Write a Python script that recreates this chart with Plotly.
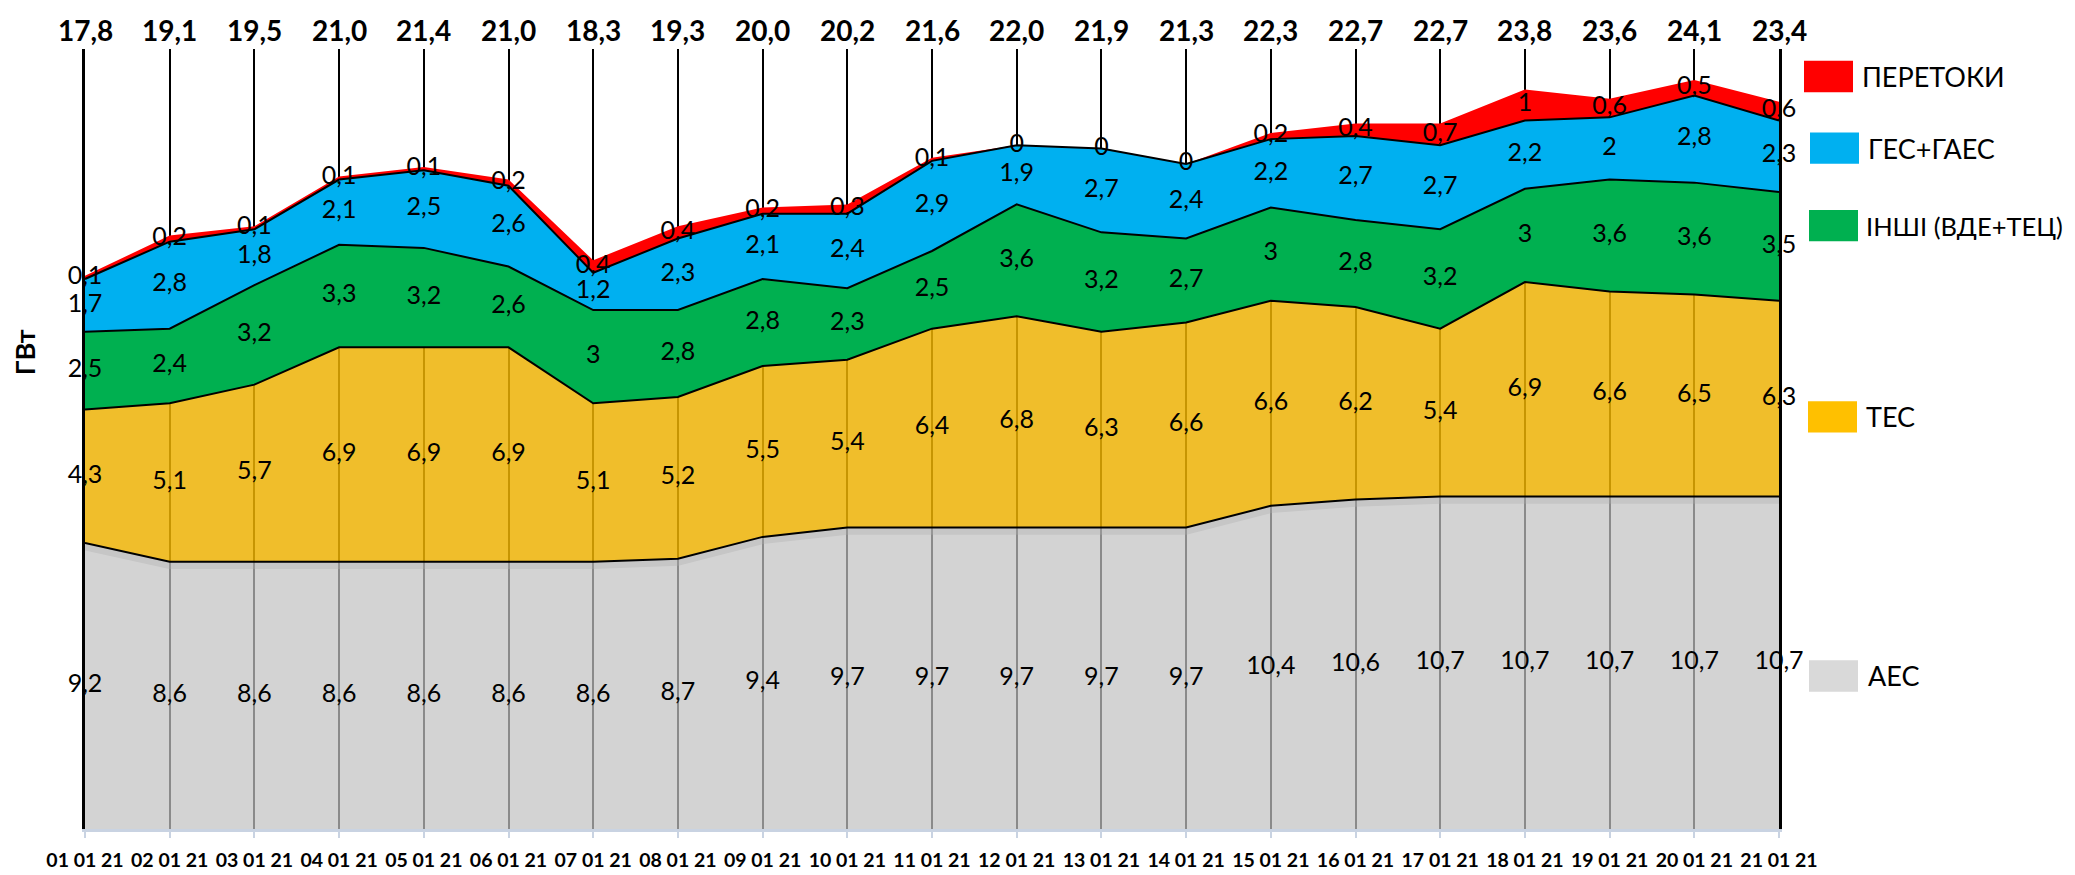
import plotly.graph_objects as go

# ---------------- data ----------------
dates = ["01 01 21", "02 01 21", "03 01 21", "04 01 21", "05 01 21", "06 01 21", "07 01 21",
         "08 01 21", "09 01 21", "10 01 21", "11 01 21", "12 01 21", "13 01 21", "14 01 21",
         "15 01 21", "16 01 21", "17 01 21", "18 01 21", "19 01 21", "20 01 21", "21 01 21"]
aes = [9.2, 8.6, 8.6, 8.6, 8.6, 8.6, 8.6, 8.7, 9.4, 9.7, 9.7, 9.7, 9.7, 9.7, 10.4, 10.6, 10.7, 10.7, 10.7, 10.7, 10.7]
tes = [4.3, 5.1, 5.7, 6.9, 6.9, 6.9, 5.1, 5.2, 5.5, 5.4, 6.4, 6.8, 6.3, 6.6, 6.6, 6.2, 5.4, 6.9, 6.6, 6.5, 6.3]
inshi = [2.5, 2.4, 3.2, 3.3, 3.2, 2.6, 3.0, 2.8, 2.8, 2.3, 2.5, 3.6, 3.2, 2.7, 3.0, 2.8, 3.2, 3.0, 3.6, 3.6, 3.5]
ges = [1.7, 2.8, 1.8, 2.1, 2.5, 2.6, 1.2, 2.3, 2.1, 2.4, 2.9, 1.9, 2.7, 2.4, 2.2, 2.7, 2.7, 2.2, 2.0, 2.8, 2.3]
peretoky = [0.1, 0.2, 0.1, 0.1, 0.1, 0.2, 0.4, 0.4, 0.2, 0.3, 0.1, 0.0, 0.0, 0.0, 0.2, 0.4, 0.7, 1.0, 0.6, 0.5, 0.6]
totals = [17.8, 19.1, 19.5, 21.0, 21.4, 21.0, 18.3, 19.3, 20.0, 20.2, 21.6, 22.0, 21.9, 21.3, 22.3, 22.7, 22.7, 23.8, 23.6, 24.1, 23.4]

series_names = ["АЕС", "ТЕС", "ІНШІ (ВДЕ+ТЕЦ)", "ГЕС+ГАЕС", "ПЕРЕТОКИ"]
series_values = [aes, tes, inshi, ges, peretoky]
fill_colors = ["rgba(193,193,193,0.714)", "rgba(237,177,2,0.84)", "#00B050", "#00B0F0", "#FF0000"]
line_widths = [2, 2, 2, 2, 0]
legend_colors = ["#D9D9D9", "#FFC000", "#00B050", "#00B0F0", "#FF0000"]

FONT = "Lato, 'Open Sans', sans-serif"

# ---------------- layout geometry (pixels) ----------------
W, H = 2075, 875
L, R, T, B = 77, 1771, 41, 836
YMAX = 25.1


def px_x(p):
    return (p - L) / (R - L)


def px_y(p):
    return (B - p) / (B - T)


def fmt(v):
    if abs(v - round(v)) < 1e-9:
        return str(int(round(v)))
    return f"{v:.1f}".replace(".", ",")


fig = go.Figure()

# soft shadow under the АЕС boundary
fig.add_trace(go.Scatter(
    x=dates, y=[a - 0.12 for a in aes], mode="lines",
    line=dict(color="rgba(120,120,120,0.35)", width=7),
    showlegend=False, hoverinfo="skip",
))

# stacked areas
for name, vals, fc, lw in zip(series_names, series_values, fill_colors, line_widths):
    fig.add_trace(go.Scatter(
        x=dates, y=vals, name=name, mode="lines", stackgroup="one",
        fillcolor=fc, line=dict(color="black", width=lw if lw else 0.01),
        showlegend=False, hoverinfo="skip",
    ))

# data labels centred inside each band
base = [0.0] * len(dates)
for vals in series_values:
    mids = [b + v / 2 for b, v in zip(base, vals)]
    fig.add_trace(go.Scatter(
        x=dates, y=mids, mode="text", text=[fmt(v) for v in vals],
        textposition="middle center", textfont=dict(family=FONT, size=25, color="black"),
        cliponaxis=False, showlegend=False, hoverinfo="skip",
    ))
    base = [b + v for b, v in zip(base, vals)]

annotations = []
# totals on top
for d, t in zip(dates, totals):
    annotations.append(dict(
        x=d, xref="x", y=1, yref="paper", yshift=19, yanchor="middle", xanchor="center",
        text=f"{t:.1f}".replace(".", ","), showarrow=False,
        font=dict(family=FONT, size=28, color="black", weight="bold"),
    ))

# y axis title
annotations.append(dict(
    x=px_x(16), y=px_y(350), xref="paper", yref="paper", text="ГВт", textangle=-90,
    showarrow=False, xanchor="center", yanchor="middle",
    font=dict(family=FONT, size=27, color="black", weight="bold"),
))

# custom legend
legend_pos = {  # name: (swatch x0, centre y, text x, font size)
    "ПЕРЕТОКИ": (1796, 69, 1852, 27),
    "ГЕС+ГАЕС": (1802, 142, 1858, 27),
    "ІНШІ (ВДЕ+ТЕЦ)": (1801, 221, 1856, 25.5),
    "ТЕС": (1800, 416, 1856, 27),
    "АЕС": (1801, 680, 1858, 27),
}
shapes = []
SW, SH = 49, 32
for name, col in zip(series_names, legend_colors):
    x0, yc, tx, fs = legend_pos[name]
    shapes.append(dict(
        type="rect", xref="paper", yref="paper",
        x0=px_x(x0), x1=px_x(x0 + SW), y0=px_y(yc + SH / 2), y1=px_y(yc - SH / 2),
        fillcolor=col, line=dict(width=0),
    ))
    annotations.append(dict(
        x=px_x(tx), y=px_y(yc), xref="paper", yref="paper", text=name, showarrow=False,
        xanchor="left", yanchor="middle", font=dict(family=FONT, size=fs, color="black"),
    ))

fig.update_layout(
    width=W, height=H,
    margin=dict(l=L, r=W - R, t=T, b=H - B, pad=0),
    paper_bgcolor="white", plot_bgcolor="white",
    showlegend=False,
    annotations=annotations, shapes=shapes,
    font=dict(family=FONT, color="black"),
    xaxis=dict(
        type="category", range=[0, len(dates) - 1],
        showgrid=True, gridcolor="black", gridwidth=2,
        showline=True, linecolor="#C9D3E2", linewidth=2.5,
        ticks="outside", ticklen=6, tickcolor="#C9D3E2", tickwidth=2,
        tickfont=dict(family=FONT, size=19.5, color="black", weight="bold"),
        ticklabelstandoff=6, zeroline=False,
    ),
    yaxis=dict(
        range=[0, YMAX], showgrid=False, zeroline=False,
        showline=True, mirror=True, linecolor="black", linewidth=2.5,
        showticklabels=False, ticks="",
    ),
)

fig.write_html("out.html")
